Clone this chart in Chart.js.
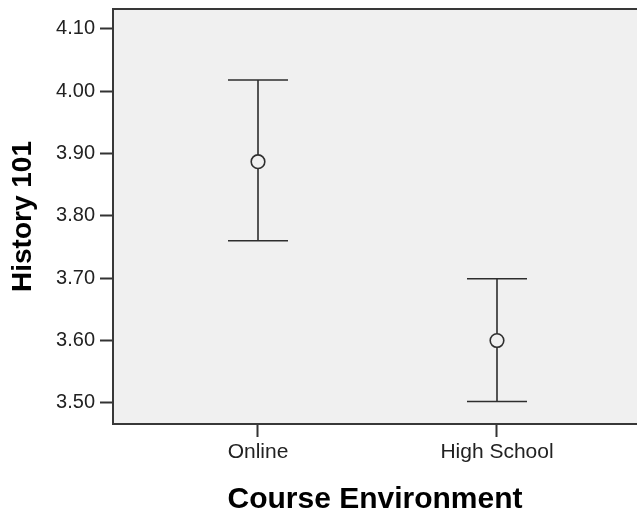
<!DOCTYPE html>
<html>
<head>
<meta charset="utf-8">
<script src="https://cdn.jsdelivr.net/npm/chart.js@4.4.1/dist/chart.umd.min.js"></script>
<style>
  html, body { margin: 0; padding: 0; background: #fff; }
  #wrap { width: 637px; height: 514px; }
</style>
</head>
<body>
<div id="wrap"><canvas id="myChart" width="637" height="514"></canvas></div>
<script>
// error bar values
const categories = ['Online', 'High School'];
const means = [3.887, 3.600];
const upper = [4.018, 3.699];
const lower = [3.760, 3.502];
const yTicks = [3.5, 3.6, 3.7, 3.8, 3.9, 4.0, 4.1];

const pts = means.map(function(m, i) {
    return { x: i + 1, y: m };
});

// grey plot background + frame, then the whiskers
const errorBars = {
    id: 'errorBars',
    beforeDatasetsDraw: function(chart) {
        const a = chart.chartArea;
        const ctx = chart.ctx;
        ctx.save();
        ctx.fillStyle = '#f0f0f0';
        ctx.fillRect(a.left, a.top, a.right - a.left, a.bottom - a.top);
        ctx.strokeStyle = '#383838';
        ctx.lineWidth = 2;
        ctx.strokeRect(a.left, a.top, a.right - a.left + 5, a.bottom - a.top);

        const xs = chart.scales.x, ys = chart.scales.y;
        ctx.strokeStyle = '#2e2e2e';
        ctx.lineWidth = 1.6;
        for (let i = 0; i < means.length; i++) {
            const x = xs.getPixelForValue(i + 1);
            const hi = ys.getPixelForValue(upper[i]);
            const lo = ys.getPixelForValue(lower[i]);
            ctx.beginPath();
            ctx.moveTo(x, hi); ctx.lineTo(x, lo);
            ctx.moveTo(x - 30, hi); ctx.lineTo(x + 30, hi);
            ctx.moveTo(x - 30, lo); ctx.lineTo(x + 30, lo);
            ctx.stroke();
        }
        ctx.restore();
    }
};

var ctx = document.getElementById('myChart').getContext('2d');
var chart = new Chart(ctx, {
    type: 'scatter',
    data: {
        datasets: [{
            data: pts,
            pointStyle: 'circle',
            pointRadius: 6.8,
            pointHoverRadius: 6.8,
            pointBackgroundColor: '#f0f0f0',
            pointBorderColor: '#2e2e2e',
            pointBorderWidth: 1.6
        }]
    },
    plugins: [errorBars],
    options: {
        responsive: false,
        animation: false,
        layout: { autoPadding: false, padding: { top: 9, left: 0, right: 0, bottom: 0 } },
        plugins: { legend: { display: false }, tooltip: { enabled: false } },
        scales: {
            x: {
                type: 'linear',
                min: 0.3933,
                max: 2.5858,
                afterFit: function(s) { s.height = 90; s.paddingLeft = 0; s.paddingRight = 0; },
                afterBuildTicks: function(s) {
                    s.ticks = categories.map(function(c, i) { return { value: i + 1 }; });
                },
                border: { display: false },
                grid: { drawOnChartArea: false, tickLength: 13, color: '#333', tickWidth: 2 },
                ticks: {
                    padding: 3,
                    color: '#222',
                    font: { family: 'Arial, "Liberation Sans"', size: 21 },
                    callback: function(v) { return categories[v - 1]; }
                },
                title: {
                    display: true,
                    text: 'Course Environment',
                    color: '#000',
                    font: { family: 'Arial, "Liberation Sans"', size: 30, weight: 'bold' },
                    padding: { top: 0, bottom: -4 }
                }
            },
            y: {
                min: 3.466,
                max: 4.132,
                afterFit: function(s) { s.width = 113; s.paddingTop = 0; s.paddingBottom = 0; },
                afterBuildTicks: function(s) {
                    s.ticks = yTicks.map(function(v) { return { value: v }; });
                },
                border: { display: false },
                grid: { drawOnChartArea: false, tickLength: 13, color: '#333', tickWidth: 2 },
                ticks: {
                    padding: 5,
                    color: '#222',
                    font: { family: 'Arial, "Liberation Sans"', size: 20 },
                    callback: function(v) { return v.toFixed(2); }
                },
                title: {
                    display: true,
                    text: 'History 101',
                    color: '#000',
                    font: { family: 'Arial, "Liberation Sans"', size: 28, weight: 'bold' },
                    padding: { top: 6, bottom: 0 }
                }
            }
        }
    }
});
</script>
</body>
</html>
